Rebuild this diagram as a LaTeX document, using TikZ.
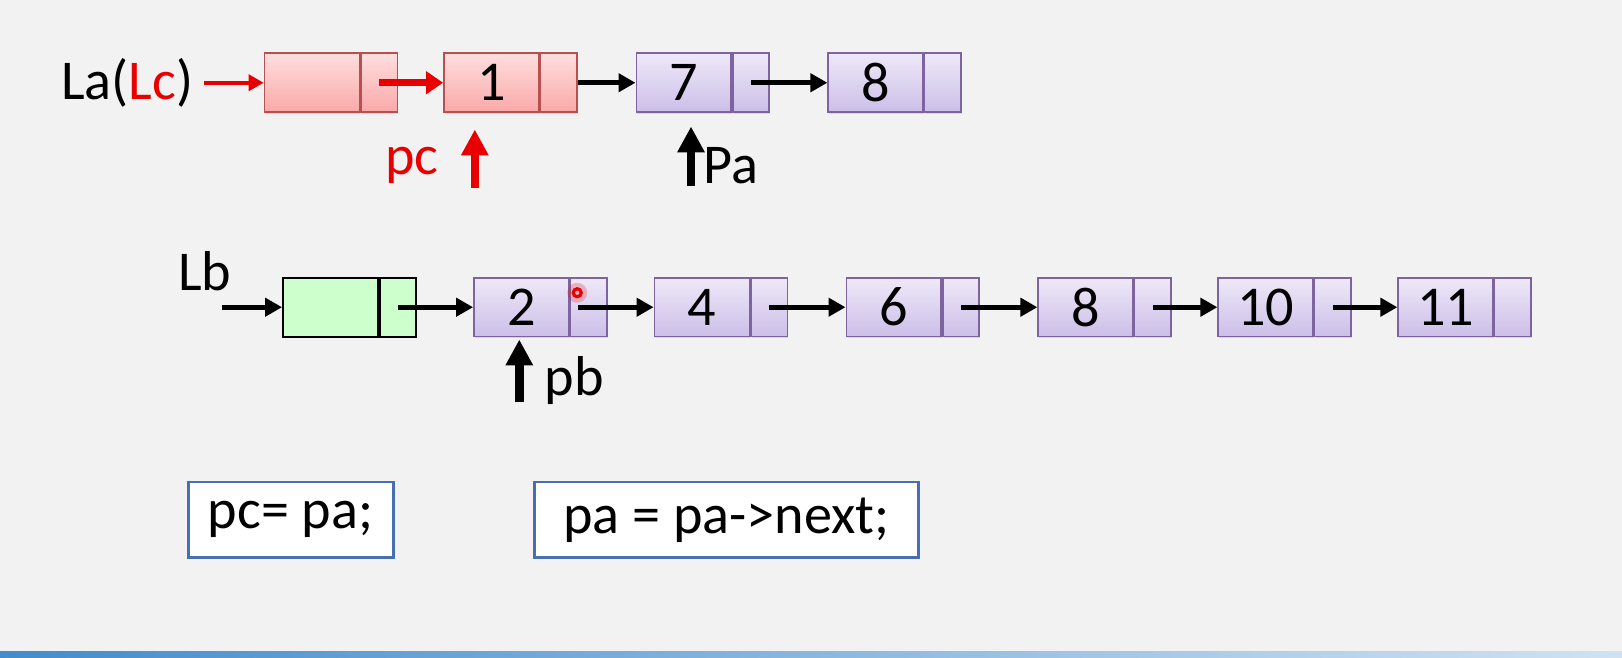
\documentclass[tikz,border=0pt]{standalone}
\usepackage{fontspec}
\setmainfont{Carlito}
\usetikzlibrary{arrows.meta,positioning,shadows}
\definecolor{slidebg}{RGB}{242,242,242}
\definecolor{redtop}{RGB}{255,222,222}
\definecolor{redbot}{RGB}{250,168,168}
\definecolor{redline}{RGB}{185,80,80}
\definecolor{purtop}{RGB}{238,233,248}
\definecolor{purbot}{RGB}{204,190,232}
\definecolor{purline}{RGB}{125,100,160}
\definecolor{greenfill}{RGB}{204,255,204}
\definecolor{boxblue}{RGB}{70,112,175}
\definecolor{barblue}{RGB}{66,140,205}
\definecolor{hotred}{RGB}{232,0,0}
\tikzset{
  cell/.style={draw, inner sep=0pt, minimum height=1.18cm,
    drop shadow={shadow xshift=0.6pt,shadow yshift=-0.9pt,opacity=0.25}},
  datacell/.style={cell, minimum width=1.9cm, font=\fontsize{32}{38}\selectfont},
  ptrcell/.style={cell, minimum width=0.73cm, anchor=west},
  redcell/.style={draw=redline, line width=0.9pt, top color=redtop, bottom color=redbot},
  purcell/.style={draw=purline, line width=0.9pt, top color=purtop, bottom color=purbot},
  greencell/.style={draw=black, line width=1.1pt, fill=greenfill},
  link/.style={-{Triangle[length=0.34cm,width=0.36cm]}, line width=2.8pt},
  redlink/.style={hotred, -{Triangle[length=0.3cm,width=0.32cm]}, line width=2.2pt},
  fatlink/.style={hotred, -{Triangle[length=0.34cm,width=0.44cm]}, line width=4pt},
  uparrow/.style={-{Triangle[length=0.52cm,width=0.52cm]}, line width=4.8pt},
  label/.style={font=\fontsize{32}{38}\selectfont, inner sep=0pt},
  codebox/.style={draw=boxblue, line width=1.6pt, fill=white, minimum height=1.51cm,
    inner sep=0pt, font=\fontsize{32}{38}\selectfont}
}

\begin{document}
\begin{tikzpicture}[x=0.0207cm, y=-0.0207cm]
\useasboundingbox (0,0) rectangle (1568,636);
\fill [slidebg] (0,0) rectangle (1568,636);
\shade [left color=barblue, right color=barblue!25] (0,630) rectangle (1568,636);

% list La (Lc)
\node [label, anchor=east] (La) at (187,80) {La(\textcolor{hotred}{Lc})};
\node [datacell, redcell] (ha) at (301.5,80) {};
\node [ptrcell, redcell] (han) at (ha.east) {};
\node [datacell, redcell] (a1) at (475,80) {1};
\node [ptrcell, redcell] (a1n) at (a1.east) {};
\node [datacell, purcell] (a7) at (661,80) {7};
\node [ptrcell, purcell] (a7n) at (a7.east) {};
\node [datacell, purcell] (a8) at (846.5,80) {8};
\node [ptrcell, purcell] (a8n) at (a8.east) {};

\draw [redlink] ([xshift=6pt]La.east) -- (ha.west);
\draw [fatlink] (han.center) -- (a1.west);
\draw [link] (a1n.east) -- (a7.west);
\draw [link] (a7n.center) -- (a8.west);

% pc and Pa
\node [label, text=hotred] (pc) at (398,160) {pc};
\coordinate (pcfoot) at (459,182);
\draw [uparrow, hotred] (pcfoot) -- ([yshift=-0.33cm]pcfoot |- a1.south);
\node [label, anchor=west] (Pa) at (680,160) {Pa};
\coordinate (pafoot) at (668,180);
\draw [uparrow] (pafoot) -- ([yshift=-0.27cm]pafoot |- a7.south);

% list Lb
\node [label] (Lb) at (198,262) {Lb};
\coordinate (lbfoot) at (215,297);
\node [datacell, greencell] (hb) at (319.5,297) {};
\node [ptrcell, greencell] (hbn) at (hb.east) {};
\node [datacell, purcell] (b2) at (504,297) {2};
\node [ptrcell, purcell] (b2n) at (b2.east) {};
\node [datacell, purcell] (b4) at (678.5,297) {4};
\node [ptrcell, purcell] (b4n) at (b4.east) {};
\node [datacell, purcell] (b6) at (864,297) {6};
\node [ptrcell, purcell] (b6n) at (b6.east) {};
\node [datacell, purcell] (b8) at (1049.5,297) {8};
\node [ptrcell, purcell] (b8n) at (b8.east) {};
\node [datacell, purcell] (b10) at (1223.5,297) {10};
\node [ptrcell, purcell] (b10n) at (b10.east) {};
\node [datacell, purcell] (b11) at (1397.5,297) {11};
\node [ptrcell, purcell] (b11n) at (b11.east) {};

\draw [link] (lbfoot) -- (hb.west);
\draw [link] (hbn.center) -- (b2.west);
\draw [link] ([xshift=-6pt]b2n.center) -- (b4.west);
\draw [link] (b4n.center) -- (b6.west);
\draw [link] (b6n.center) -- (b8.west);
\draw [link] (b8n.center) -- (b10.west);
\draw [link] (b10n.center) -- (b11.west);

% pb
\coordinate (pbfoot) at (502,389);
\draw [uparrow] (pbfoot) -- ([yshift=-0.04cm]pbfoot |- b2.south);
\node [label] (pb) at (555,368) {pb};

% pointer dot
\fill [hotred, opacity=0.22] (558,283) circle (0.2cm);
\draw [hotred, line width=1.8pt] (558,283) circle (0.08cm);

% code
\node [codebox, minimum width=4.1cm] (code1) at (281,502.5) {pc= pa;};
\node [codebox, minimum width=7.68cm] (code2) at (702.5,502.5) {pa = pa->next;};
\end{tikzpicture}
\end{document}
